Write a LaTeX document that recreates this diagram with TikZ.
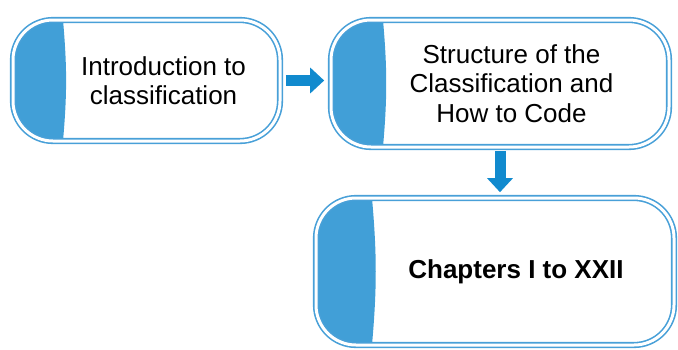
\documentclass[tikz,border=0pt]{standalone}
\usepackage{fontspec}
\setmainfont{Liberation Sans}
\usetikzlibrary{arrows.meta}
\definecolor{rimblue}{RGB}{72,160,216}
\definecolor{tabblue}{RGB}{65,159,215}
\definecolor{arrblue}{RGB}{17,138,206}
\begin{document}
\begin{tikzpicture}[x=1pt, y=-1pt,
  stage/.style = {draw=rimblue, line width=1.6pt, double=white, double distance=3pt,
    rounded corners=40pt, inner sep=0pt,
    path picture={\fill[tabblue, sharp corners] (path picture bounding box.north west)
      -- ([xshift=#1]path picture bounding box.north west)
      to[bend left=5] ([xshift=#1]path picture bounding box.south west)
      -- (path picture bounding box.south west) -- cycle;}},
  stage/.default = 50pt,
  txt/.style = {align=center, font=\fontsize{26}{29.5}\selectfont},
  flow/.style = {draw=arrblue, line width=11pt, -{Triangle[width=25pt,length=14pt]}}]
\useasboundingbox (0,0) rectangle (678,349);
\node[stage, minimum width=267pt, minimum height=121pt,
  label={[txt, xshift=17pt]center:{Introduction to\\classification}}] (intro) at (146.5,80.5) {};
\node[stage=52pt, minimum width=338pt, minimum height=127pt,
  label={[txt, xshift=11.5pt]center:{Structure of the\\Classification and\\How to Code}}] (struct) at (500,83.5) {};
\node[stage=56pt, minimum width=358pt, minimum height=147pt,
  label={[txt, xshift=21pt, font=\fontsize{26}{29.5}\selectfont\bfseries]center:{Chapters I to XXII}}] (chap) at (495,271.5) {};
\draw[flow, shorten <=5pt, shorten >=6pt] (intro.east) -- (intro.east -| struct.west);
\draw[flow, shorten <=3pt, shorten >=5pt] (struct.south) -- (struct.south |- chap.north);
\end{tikzpicture}
\end{document}
